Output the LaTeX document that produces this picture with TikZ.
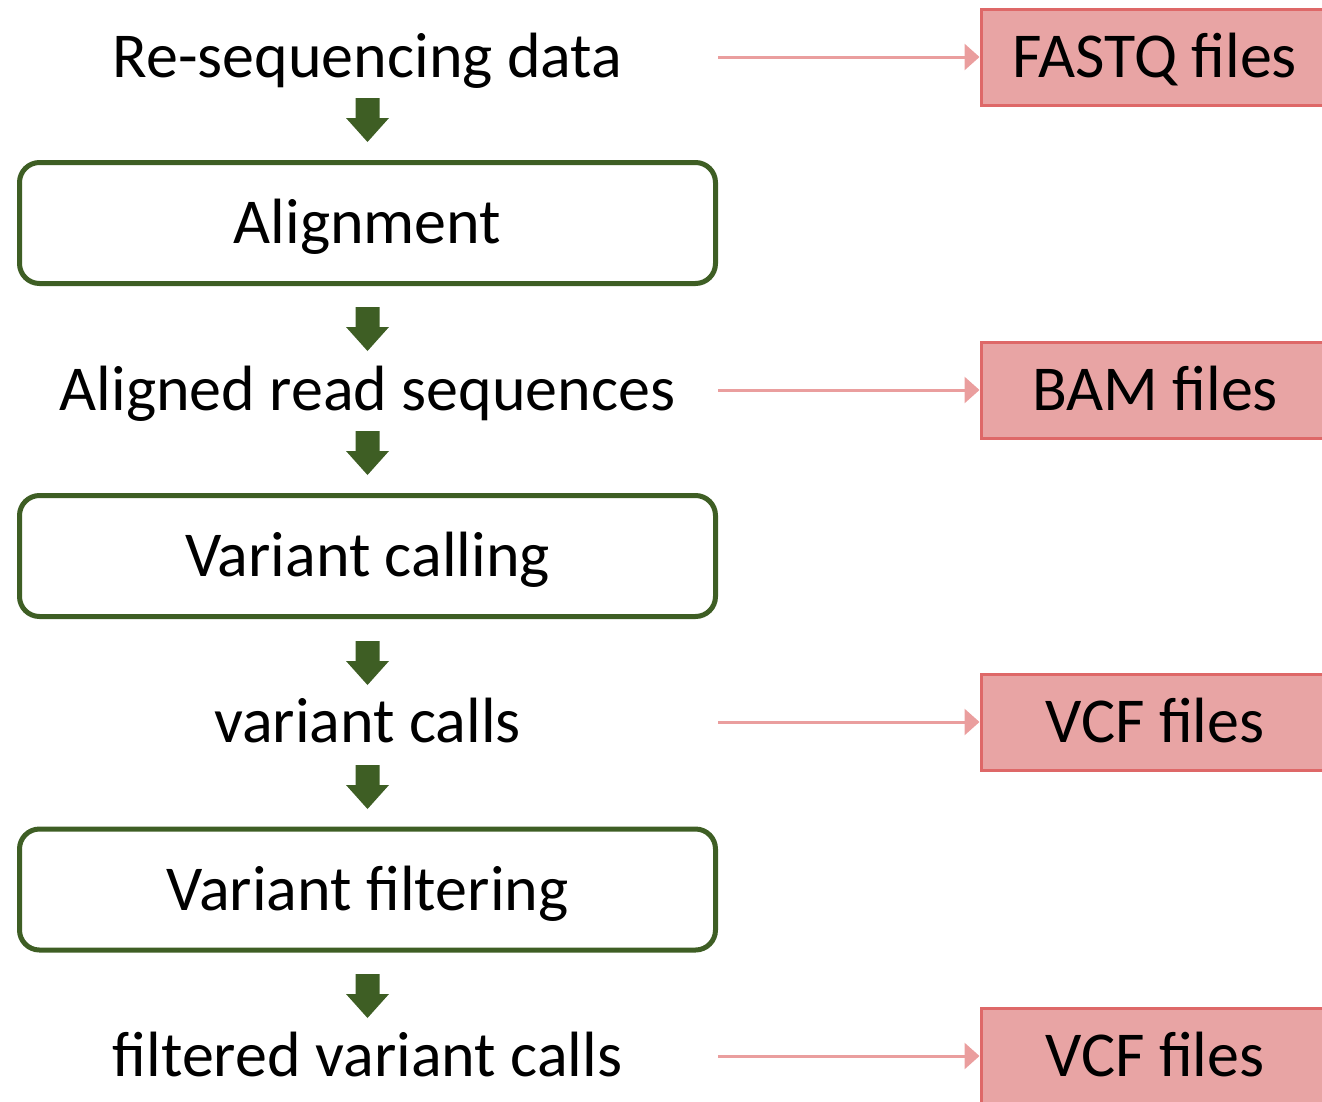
\documentclass[tikz,border=0pt]{standalone}
\usepackage{fontspec}
\setmainfont{Carlito}
\usetikzlibrary{arrows.meta}
\definecolor{gr}{RGB}{62,94,36}
\definecolor{pkfill}{RGB}{232,164,164}
\definecolor{pkdraw}{RGB}{222,104,104}
\definecolor{pkline}{RGB}{234,158,158}
\tikzset{
  lbl/.style={font=\fontsize{64}{76}\selectfont, inner sep=0pt, text height=42pt, text depth=1pt, anchor=center},
  stepbox/.style={lbl, draw=gr, line width=5pt, rounded corners=20pt, fill=white, minimum width=696pt, minimum height=121pt},
  filebox/.style={lbl, draw=pkdraw, fill=pkfill, line width=3pt, minimum width=348pt, minimum height=96pt},
  pkarrow/.style={draw=pkline, line width=3pt, -{Triangle[width=26pt,length=15pt]}},
  garrow/.pic={\fill[gr] (-12,0) -- (12,0) -- (12,20) -- (21.5,20) -- (0,44) -- (-21.5,20) -- (-12,20) -- cycle;}
}
\begin{document}
\begin{tikzpicture}[x=1pt,y=-1pt]
\useasboundingbox (0,0) rectangle (1322,1101);
\clip (0,0) rectangle (1322,1101);
% left column
\node[lbl] (t1) at (367.5,57) {Re-sequencing data};
\node[stepbox] (s1) at (367.5,223) {Alignment};
\node[lbl] (t2) at (367.5,390) {Aligned read sequences};
\node[stepbox] (s2) at (367.5,556) {Variant calling};
\node[lbl] (t3) at (367.5,722) {variant calls};
\node[stepbox] (s3) at (367.5,889.5) {Variant filtering};
\node[lbl] (t4) at (367.5,1056) {filtered variant calls};
% green block arrows
\pic at (367.5,98) {garrow};
\pic at (367.5,307) {garrow};
\pic at (367.5,431) {garrow};
\pic at (367.5,641) {garrow};
\pic at (367.5,765) {garrow};
\pic at (367.5,974) {garrow};
% file boxes
\node[filebox] (f1) at (1155,57) {FASTQ files};
\node[filebox] (f2) at (1155,390) {BAM files};
\node[filebox] (f3) at (1155,722) {VCF files};
\node[filebox] (f4) at (1155,1056) {VCF files};
% connectors
\coordinate (c1) at (718,57);
\coordinate (c2) at (718,390);
\coordinate (c3) at (718,722);
\coordinate (c4) at (718,1056);
\draw[pkarrow] (c1) -- (f1.west);
\draw[pkarrow] (c2) -- (f2.west);
\draw[pkarrow] (c3) -- (f3.west);
\draw[pkarrow] (c4) -- (f4.west);
\end{tikzpicture}
\end{document}
